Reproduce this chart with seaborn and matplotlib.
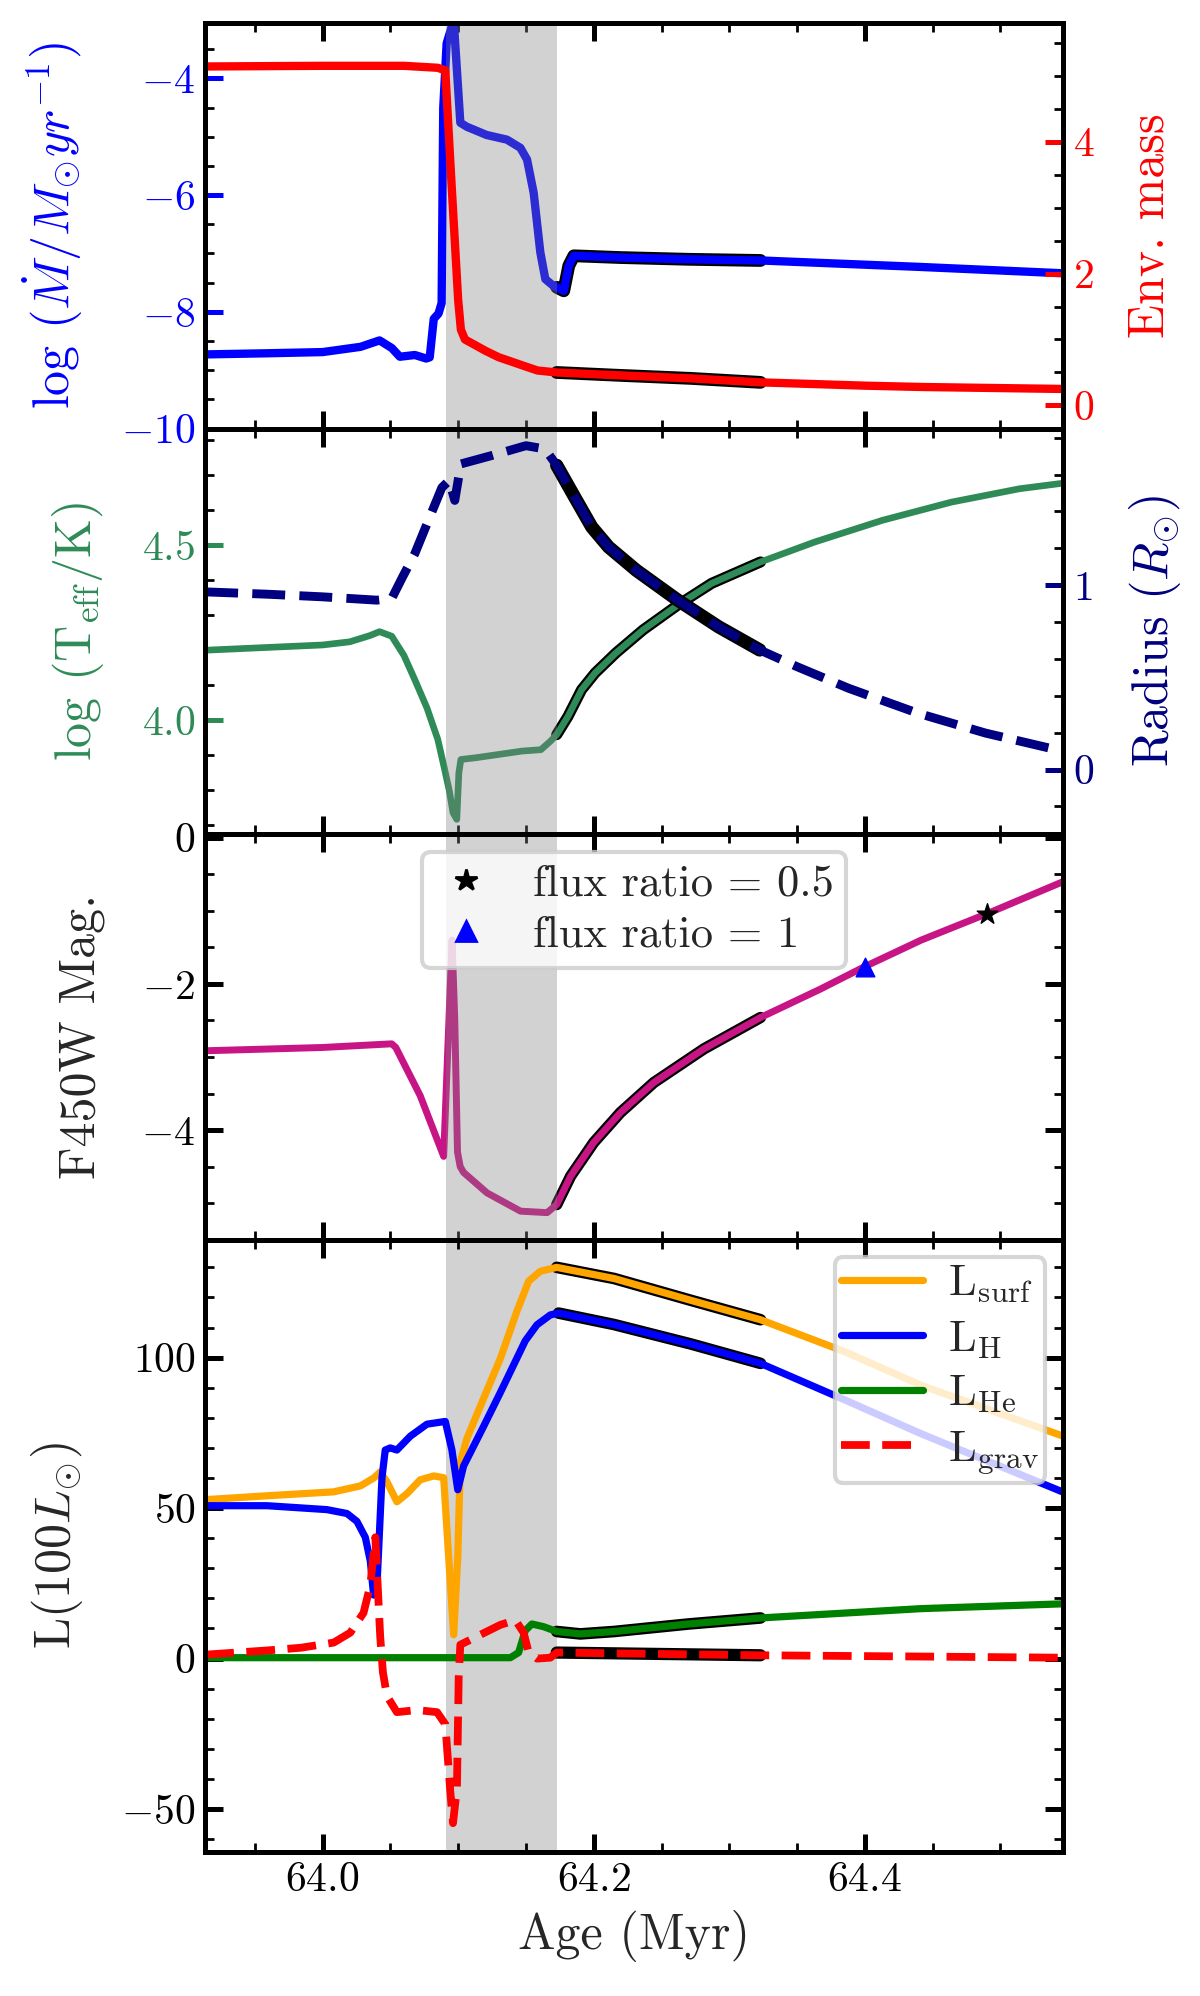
import numpy as np
import seaborn as sns
import matplotlib.pyplot as plt
from matplotlib.ticker import MultipleLocator
from matplotlib.lines import Line2D

# ---- data ----
span_lo, span_hi = 64.091, 64.1727     # grey band
out_lo, out_hi = 64.172, 64.324        # black-outlined stretch

# panel 1: mass-loss rate (left) and envelope mass (right)
mdot_age = [63.9134, 63.96, 64.0, 64.028, 64.042, 64.051, 64.057, 64.068, 64.0764, 64.079,
            64.082, 64.0855, 64.0878, 64.089, 64.0915, 64.0967, 64.1016, 64.1065, 64.121,
            64.136, 64.1459, 64.1508, 64.1557, 64.1606, 64.1643, 64.1705, 64.1727, 64.1779,
            64.1816, 64.1853, 64.2197, 64.27, 64.323, 64.44, 64.5463]
mdot_val = [-8.73, -8.71, -8.69, -8.60, -8.49, -8.62, -8.77, -8.74, -8.80, -8.78,
            -8.12, -8.03, -7.85, -4.5, -3.4, -3.0, -4.76, -4.83, -4.97,
            -5.05, -5.19, -5.39, -5.96, -6.98, -7.44, -7.56, -7.58, -7.64,
            -7.21, -7.04, -7.07, -7.10, -7.12, -7.23, -7.34]

env_age = [63.9134, 64.0, 64.06, 64.085, 64.0905, 64.095, 64.1, 64.102, 64.105, 64.113,
           64.12, 64.13, 64.14, 64.147, 64.1585, 64.1727, 64.215, 64.272, 64.323, 64.40,
           64.4416, 64.5463]
env_val = [5.14, 5.15, 5.15, 5.12, 5.08, 3.4, 1.6, 1.15, 1.0, 0.91,
           0.83, 0.73, 0.66, 0.61, 0.53, 0.50, 0.46, 0.41, 0.35, 0.30,
           0.28, 0.25]

# panel 2: log Teff (left) and radius (right)
teff_age = [63.9134, 64.0, 64.02, 64.035, 64.042, 64.051, 64.06, 64.068, 64.077, 64.085,
            64.09, 64.0934, 64.0962, 64.099, 64.1005, 64.102, 64.113, 64.147, 64.161, 64.168,
            64.1727, 64.181, 64.191, 64.201, 64.2163, 64.2364, 64.262, 64.287, 64.323, 64.363,
            64.413, 64.464, 64.514, 64.5463]
teff_val = [4.20, 4.215, 4.224, 4.242, 4.253, 4.24, 4.185, 4.116, 4.035, 3.945,
            3.86, 3.80, 3.736, 3.717, 3.85, 3.888, 3.893, 3.912, 3.916, 3.94,
            3.959, 4.011, 4.087, 4.135, 4.192, 4.258, 4.329, 4.391, 4.452, 4.509,
            4.571, 4.623, 4.661, 4.677]

rad_age = [63.9134, 63.96, 64.0, 64.040, 64.051, 64.059, 64.068, 64.079, 64.088, 64.0934,
           64.0975, 64.102, 64.1245, 64.150, 64.164, 64.1727, 64.186, 64.1986, 64.211, 64.2314,
           64.262, 64.292, 64.3224, 64.350, 64.388, 64.439, 64.489, 64.5463]
rad_val = [0.964, 0.951, 0.937, 0.919, 0.928, 1.045, 1.171, 1.369, 1.53, 1.568,
           1.46, 1.658, 1.703, 1.757, 1.739, 1.65, 1.477, 1.315, 1.207, 1.081,
           0.919, 0.775, 0.649, 0.558, 0.441, 0.306, 0.198, 0.099]

# panel 3: F450W magnitude
mag_age = [63.9134, 64.0, 64.051, 64.054, 64.072, 64.0893, 64.0915, 64.0955, 64.0975, 64.0995,
           64.1015, 64.104, 64.1213, 64.146, 64.1656, 64.1727, 64.183, 64.2, 64.2197, 64.2443,
           64.2812, 64.323, 64.3673, 64.3992, 64.4416, 64.49, 64.5463]
mag_val = [-2.915, -2.87, -2.82, -2.87, -3.53, -4.36, -3.3, -1.4, -2.5, -4.3,
           -4.5, -4.58, -4.86, -5.11, -5.13, -5.02, -4.63, -4.17, -3.76, -3.35,
           -2.89, -2.46, -2.07, -1.77, -1.40, -1.04, -0.60]
star_age, star_mag = [64.49], [-1.04]
tri_age, tri_mag = [64.40], [-1.77]

# panel 4: luminosities in 100 Lsun
lsurf_age = [63.9134, 63.959, 64.0081, 64.028, 64.038, 64.0425, 64.0475, 64.0548, 64.0622, 64.072,
             64.082, 64.0893, 64.093, 64.0967, 64.0997, 64.1016, 64.1065, 64.1188, 64.1311, 64.1434,
             64.152, 64.1606, 64.1727, 64.215, 64.272, 64.323, 64.385, 64.4416, 64.5463]
lsurf_val = [52.8, 54.1, 55.4, 57.4, 60.1, 62.0, 58.7, 52.1, 54.8, 59.4,
             60.7, 60.1, 33.7, 7.9, 33.7, 65.3, 73.2, 86.5, 99.7, 115.5,
             125.4, 128.7, 130.0, 126.3, 119.0, 112.6, 102.0, 90.8, 73.9]

lh_age = [63.9134, 63.959, 64.0032, 64.018, 64.0253, 64.0315, 64.0352, 64.0376, 64.040, 64.0438,
          64.0462, 64.0499, 64.0548, 64.0647, 64.077, 64.0905, 64.0954, 64.0997, 64.104, 64.1188,
          64.1311, 64.1495, 64.1581, 64.168, 64.1741, 64.215, 64.272, 64.323, 64.385, 64.4416, 64.5463]
lh_val = [50.8, 50.8, 49.5, 48.2, 45.6, 40.3, 32.4, 21.1, 23.1, 60.1,
          69.3, 70.0, 69.3, 73.9, 77.9, 78.8, 69.3, 56.1, 64.0, 77.2,
          88.4, 105.6, 110.9, 114.2, 114.8, 111.0, 104.5, 98.1, 86.0, 74.7, 55.3]

lhe_age = [63.9134, 64.1385, 64.1446, 64.1495, 64.1544, 64.163, 64.1727, 64.19, 64.215, 64.27,
           64.323, 64.4416, 64.5463]
lhe_val = [0.3, 0.3, 2.0, 9.3, 11.5, 10.6, 9.0, 8.2, 9.0, 11.5,
           13.5, 16.6, 18.2]

lgrav_age = [63.9134, 63.959, 63.984, 64.0081, 64.0204, 64.0302, 64.0352, 64.0389, 64.0425, 64.0445,
             64.0475, 64.0548, 64.0696, 64.0844, 64.0905, 64.0942, 64.0962, 64.0991, 64.1004, 64.1016,
             64.1163, 64.1311, 64.1422, 64.1483, 64.152, 64.1581, 64.168, 64.1727, 64.323, 64.5463]
lgrav_val = [1.3, 2.7, 3.6, 5.3, 8.6, 15.2, 24.4, 40.3, 7.3, -4.6,
             -12.5, -17.8, -17.1, -17.8, -21.8, -44.2, -54.7, -42.9, -6.0, 4.6,
             7.9, 11.2, 12.8, 8.6, 2.0, 0.0, 0.3, 2.0, 1.1, 0.3]

# ---- style ----
sns.set_style("ticks")
plt.rcParams.update({
    "font.family": "serif",
    "font.serif": ["cmr10"],
    "mathtext.fontset": "cm",
    "axes.formatter.use_mathtext": True,
    "axes.linewidth": 1.8,
    "axes.edgecolor": "black",
    "xtick.direction": "in", "ytick.direction": "in",
    "xtick.color": "black", "ytick.color": "black",
    "xtick.major.size": 6.5, "ytick.major.size": 6.5,
    "xtick.major.width": 1.8, "ytick.major.width": 1.8,
    "xtick.minor.size": 3.2, "ytick.minor.size": 3.2,
    "xtick.minor.width": 1.0, "ytick.minor.width": 1.0,
    "xtick.labelsize": 15, "ytick.labelsize": 15,
    "axes.labelsize": 18,
    "legend.fontsize": 16,
})


def draw(ax, age, val, color, lw, ls="-"):
    age = np.asarray(age)
    val = np.asarray(val)
    sns.lineplot(x=age, y=val, ax=ax, color=color, lw=lw, ls=ls,
                 sort=False, estimator=None, zorder=2)
    m = (age >= out_lo) & (age <= out_hi)
    sns.lineplot(x=age[m], y=val[m], ax=ax, color="black", lw=lw + 1.6,
                 sort=False, estimator=None, zorder=1.9)


def style_y(ax, major, minor, color):
    ax.yaxis.set_major_locator(MultipleLocator(major))
    ax.yaxis.set_minor_locator(MultipleLocator(minor))
    ax.tick_params(axis="y", which="major", color=color, labelcolor=color)
    ax.tick_params(axis="y", which="minor", color="black")


fig, axes = plt.subplots(4, 1, figsize=(6, 9.98), dpi=200, sharex=True,
                         gridspec_kw={"height_ratios": [1, 1, 1, 1.51], "hspace": 0})
fig.subplots_adjust(left=0.171, right=0.886, top=0.9885, bottom=0.0721)
ax1, ax2, ax3, ax4 = axes

for ax in axes:
    ax.xaxis.set_major_locator(MultipleLocator(0.2))
    ax.xaxis.set_minor_locator(MultipleLocator(0.05))
    ax.tick_params(axis="x", which="both", top=True, bottom=True)

# panel 1
draw(ax1, mdot_age, mdot_val, "blue", 3.0)
ax1.axvspan(span_lo, span_hi, color="gray", alpha=0.35, lw=0, zorder=2.5)
ax1.set_ylim(-10, -3.05)
style_y(ax1, 2, 0.5, "blue")
ax1.tick_params(axis="y", which="both", right=False)
ax1.set_ylabel(r"log $(\dot{M}/M_{\odot}yr^{-1})$", color="blue", labelpad=13)
ax1b = ax1.twinx()
draw(ax1b, env_age, env_val, "red", 3.0)
ax1b.set_ylim(-0.35, 5.8)
style_y(ax1b, 2, 0.5, "red")
ax1b.set_ylabel("Env. mass", color="red", labelpad=12)

# panel 2
draw(ax2, teff_age, teff_val, "seagreen", 2.4)
ax2.axvspan(span_lo, span_hi, color="gray", alpha=0.35, lw=0, zorder=2.5)
ax2.set_ylim(3.675, 4.833)
style_y(ax2, 0.5, 0.1, "seagreen")
ax2.tick_params(axis="y", which="both", right=False)
ax2.set_ylabel(r"log $(\rm T_{eff}/K)$", color="seagreen", labelpad=13)
ax2b = ax2.twinx()
draw(ax2b, rad_age, rad_val, "navy", 3.2, ls="--")
ax2b.set_ylim(-0.35, 1.85)
style_y(ax2b, 1, 0.2, "navy")
ax2b.set_ylabel(r"Radius $(R_{\odot})$", color="navy", labelpad=12)

# panel 3
draw(ax3, mag_age, mag_val, "mediumvioletred", 2.5)
ax3.axvspan(span_lo, span_hi, color="gray", alpha=0.35, lw=0, zorder=2.5)
sns.scatterplot(x=star_age, y=star_mag, ax=ax3, marker="*", s=60, color="black",
                edgecolor="black", linewidth=0.5, zorder=4)
sns.scatterplot(x=tri_age, y=tri_mag, ax=ax3, marker="^", s=45, color="blue",
                edgecolor="blue", linewidth=0.5, zorder=4)
ax3.set_ylim(-5.5, 0.05)
style_y(ax3, 2, 0.5, "black")
ax3.tick_params(axis="y", which="both", right=True)
ax3.set_ylabel("F450W Mag.", labelpad=13)
h3 = [Line2D([], [], ls="none", marker="*", ms=8, color="black"),
      Line2D([], [], ls="none", marker="^", ms=7, color="blue")]
leg3 = ax3.legend(h3, ["flux ratio = 0.5", "flux ratio = 1"], loc="upper center",
                  frameon=True, numpoints=1, handlelength=1.4, labelspacing=0.25,
                  borderpad=0.28, borderaxespad=0.4)
leg3.get_frame().set_linewidth(1.5)

# panel 4
ax4.axvspan(span_lo, span_hi, color="gray", alpha=0.35, lw=0, zorder=0.5)
draw(ax4, lsurf_age, lsurf_val, "orange", 2.6)
draw(ax4, lh_age, lh_val, "blue", 2.6)
draw(ax4, lhe_age, lhe_val, "green", 2.6)
draw(ax4, lgrav_age, lgrav_val, "red", 2.8, ls="--")
ax4.set_ylim(-64.3, 139.2)
style_y(ax4, 50, 10, "black")
ax4.tick_params(axis="y", which="both", right=True)
ax4.set_ylabel(r"L$(100L_{\odot})$", labelpad=13)
h4 = [Line2D([], [], color="orange", lw=2.6),
      Line2D([], [], color="blue", lw=2.6),
      Line2D([], [], color="green", lw=2.6),
      Line2D([], [], color="red", lw=2.8, ls="--")]
leg4 = ax4.legend(h4, [r"$\rm L_{surf}$", r"$\rm L_{H}$", r"$\rm L_{He}$", r"$\rm L_{grav}$"],
                  loc="upper right", frameon=True, handlelength=1.85,
                  handletextpad=0.55, labelspacing=0.31, borderpad=0.15,
                  borderaxespad=0.4)
leg4.get_frame().set_linewidth(1.5)

ax4.set_xlim(63.9134, 64.5463)
ax4.set_xlabel("Age (Myr)")

fig.savefig("out.png", dpi=200)
